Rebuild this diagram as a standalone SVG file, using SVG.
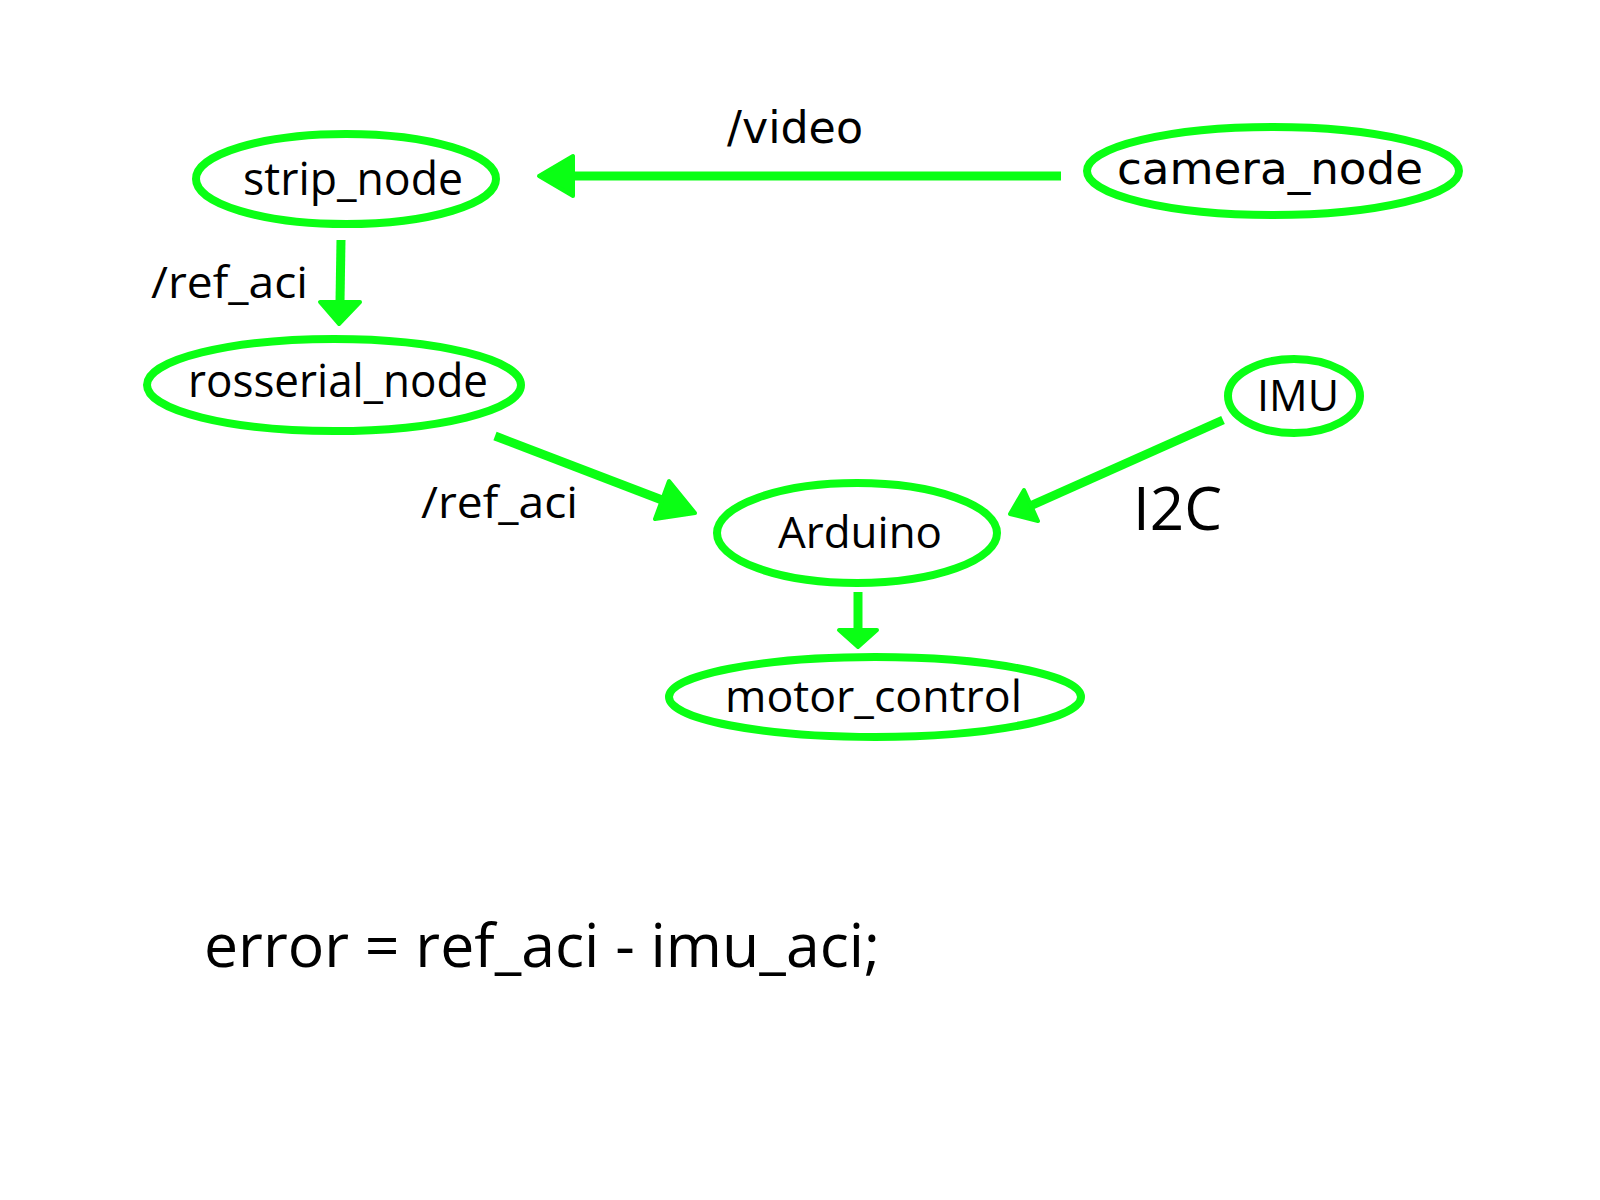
<svg xmlns="http://www.w3.org/2000/svg" width="1600" height="1200" viewBox="0 0 1600 1200">
<style>
.node{fill:#ffffff;stroke:#0aff14;stroke-width:8}
.edge{stroke:#0aff14;stroke-width:9;fill:none;stroke-linecap:butt}
.head{fill:#0aff14;stroke:#0aff14;stroke-width:4;stroke-linejoin:round}
.t{font-family:"Open Sans","DejaVu Sans",sans-serif;fill:#000000}
.d{font-family:"DejaVu Sans","Open Sans",sans-serif;fill:#000000}
</style>
<rect x="0" y="0" width="1600" height="1200" fill="#ffffff"/>
<g id="connectors">
  <line class="edge" x1="1061" y1="176" x2="570" y2="176"/>
  <polygon class="head" points="539,176 573,156 573,196"/>
  <line class="edge" x1="341" y1="240" x2="340" y2="302"/>
  <polygon class="head" points="339,324 320,302 360,302"/>
  <line class="edge" x1="495" y1="436" x2="662" y2="500"/>
  <polygon class="head" points="695,513 669,481 655,519"/>
  <line class="edge" x1="1223" y1="420" x2="1030" y2="506"/>
  <polygon class="head" points="1010,514 1024,490 1038,521"/>
  <line class="edge" x1="858" y1="592" x2="858" y2="632"/>
  <polygon class="head" points="858,647 839,630 877,630"/>
  <text class="d" x="727" y="143" font-size="44" textLength="136" lengthAdjust="spacingAndGlyphs">/video</text>
  <text class="t" x="151" y="298" font-size="44" textLength="157" lengthAdjust="spacingAndGlyphs">/ref_aci</text>
  <text class="t" x="421" y="518" font-size="44" textLength="157" lengthAdjust="spacingAndGlyphs">/ref_aci</text>
  <text class="t" x="1133" y="530" font-size="60" textLength="89" lengthAdjust="spacingAndGlyphs">I2C</text>
</g>
<g id="strip_node">
  <ellipse class="node" cx="346" cy="179" rx="150" ry="45"/>
  <text class="t" x="243" y="195" font-size="46" textLength="220" lengthAdjust="spacingAndGlyphs">strip_node</text>
</g>
<g id="camera_node">
  <ellipse class="node" cx="1273" cy="171" rx="186" ry="44"/>
  <text class="d" x="1117" y="184" font-size="45" textLength="306" lengthAdjust="spacingAndGlyphs">camera_node</text>
</g>
<g id="rosserial_node">
  <ellipse class="node" cx="334" cy="385" rx="187" ry="46"/>
  <text class="t" x="188" y="397" font-size="45" textLength="300" lengthAdjust="spacingAndGlyphs">rosserial_node</text>
</g>
<g id="IMU">
  <ellipse class="node" cx="1294" cy="396" rx="66" ry="37"/>
  <text class="t" x="1257" y="411" font-size="44" textLength="82" lengthAdjust="spacingAndGlyphs">IMU</text>
</g>
<g id="Arduino">
  <ellipse class="node" cx="857" cy="533" rx="140" ry="50"/>
  <text class="t" x="778" y="548" font-size="44" textLength="164" lengthAdjust="spacingAndGlyphs">Arduino</text>
</g>
<g id="motor_control">
  <ellipse class="node" cx="875" cy="697" rx="206" ry="40"/>
  <text class="t" x="725" y="712" font-size="44" textLength="297" lengthAdjust="spacingAndGlyphs">motor_control</text>
</g>
<g id="formula">
  <text class="t" x="204" y="967" font-size="60" textLength="676" lengthAdjust="spacingAndGlyphs">error = ref_aci - imu_aci;</text>
</g>
</svg>
